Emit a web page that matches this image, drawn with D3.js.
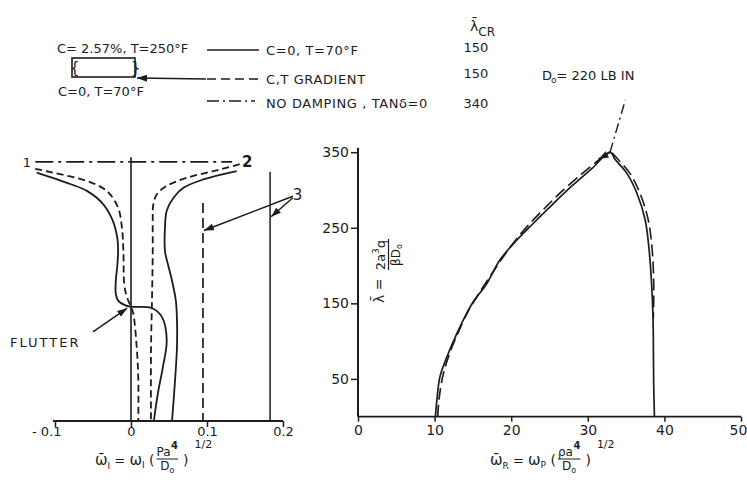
<!DOCTYPE html>
<html>
<head>
<meta charset="utf-8">
<script src="https://cdn.jsdelivr.net/npm/d3@7"></script>
<style>
  html, body { margin: 0; padding: 0; background: #fff; }
  svg { display: block; }
  text { font-family: "DejaVu Sans", sans-serif; fill: #1c1c1c; }
</style>
</head>
<body>
<svg id="chart" width="747" height="484"></svg>
<script>
// ---------------- data ----------------
// legend cases and their critical dynamic pressure
const legendCases = ["C=0, T=70°F", "C,T GRADIENT", "NO DAMPING , TANδ=0"];
const legendLambdaCR = [150, 150, 340];
const legendDash = [null, "9,5", "12,4,2,4"];

// tick values
const imagTicks = [-0.1, 0, 0.1, 0.2];
const imagTickLabels = ["- 0.1", "0", "0.1", "0.2"];
const realTicks = [0, 10, 20, 30, 40, 50];
const lambdaTicks = [50, 150, 250, 350];

// imaginary frequency vs lambda, pairs [omegaI, lambda]
const mode1Solid = [[-0.124, 326], [-0.080, 311], [-0.058, 302], [-0.037, 285], [-0.024, 263],
  [-0.018, 240], [-0.017, 223], [-0.018, 204], [-0.020, 184], [-0.020, 167], [-0.017, 158],
  [-0.008, 152], [-0.001, 150], [0.028, 148], [0.041, 136], [0.047, 106], [0.042, 71],
  [0.0355, 37], [0.030, 0]];
const mode1Dashed = [[-0.126, 331], [-0.103, 326], [-0.058, 315], [-0.032, 302], [-0.017, 280],
  [-0.012, 254], [-0.010, 223], [-0.009, 180], [-0.0066, 167], [-0.0036, 158], [0, 150],
  [0.003, 141], [0.0075, 97], [0.0096, 54], [0.0096, 0]];
const mode2Solid = [[0.139, 328], [0.095, 317], [0.069, 306], [0.056, 293], [0.047, 276],
  [0.0447, 254], [0.0447, 223], [0.049, 204], [0.054, 184], [0.059, 158], [0.0605, 132],
  [0.0605, 97], [0.058, 54], [0.054, 0]];
const mode2Dashed = [[0.143, 337], [0.117, 330], [0.073, 319], [0.047, 308.5], [0.034, 297.6],
  [0.0293, 284], [0.0286, 267], [0.0286, 223], [0.0276, 158], [0.0263, 93], [0.0263, 0]];
const noDampingLambda = 340;
const noDampingSpan = [-0.126, 0.133];
const zeroLineTop = 346;
const mode3Dashed = { omega: 0.0947, top: 286 };
const mode3Solid = { omega: 0.183, top: 327 };

// real frequency vs lambda, pairs [omegaR, lambda]
const realSolid = [[10.1, 0], [10.3, 22], [10.7, 53], [11.6, 79], [12.9, 110], [14.2, 137],
  [15.05, 152], [16.8, 176], [18.5, 207], [20.3, 229], [22.8, 255], [25.4, 281], [28.0, 306],
  [30.6, 329], [32.9, 350], [33.6, 340], [35.1, 322], [36.4, 296], [37.5, 260], [38.0, 221],
  [38.3, 181], [38.5, 137], [38.55, 110], [38.6, 44], [38.7, 0]];
const realDashedLeft = [[10.4, 0], [10.6, 25], [11.1, 55], [12.0, 85], [13.1, 112], [14.4, 140],
  [15.6, 160], [17.2, 185], [19.2, 215], [21.5, 245], [24.0, 272], [26.6, 298], [29.3, 322],
  [31.5, 340], [32.9, 350]];
const realDashedRight = [[33.2, 349], [34.0, 340], [35.5, 322], [36.8, 296], [37.9, 260],
  [38.4, 221], [38.6, 181], [38.6, 150], [38.55, 130]];
const realNoDamping = [[32.9, 350], [34.9, 419]];

// ---------------- drawing ----------------
const ink = "#1c1c1c";
const svg = d3.select("#chart");

const defs = svg.append("defs");
defs.append("marker")
  .attr("id", "arrow").attr("viewBox", "0 0 10 7")
  .attr("refX", 10).attr("refY", 3.5)
  .attr("markerWidth", 10).attr("markerHeight", 7)
  .attr("markerUnits", "userSpaceOnUse")
  .attr("orient", "auto")
  .append("path").attr("d", "M0,0 L10,3.5 L0,7 Z").attr("fill", ink);

const arrow = (g, a, b) => g.append("line")
  .attr("x1", a[0]).attr("y1", a[1]).attr("x2", b[0]).attr("y2", b[1])
  .attr("stroke", ink).attr("stroke-width", 1.5).attr("marker-end", "url(#arrow)");

// axis title of the form  w̄_s = w_s ( num / D_o ) ^1/2
function freqTitle(g, x, y, sub, subOuter, numChar) {
  const pre = g.append("text").attr("x", x).attr("y", y).attr("font-size", 15);
  pre.append("tspan").text("ω\u0304");
  pre.append("tspan").attr("font-size", 9).attr("dy", 4).text(sub);
  pre.append("tspan").attr("font-size", 13).attr("dy", -4).text(" = ");
  pre.append("tspan").text("ω");
  pre.append("tspan").attr("font-size", 9).attr("dy", 3).text(subOuter);
  pre.append("tspan").attr("font-size", 14).attr("dy", -3).text(" (");
  const x0 = x + pre.node().getComputedTextLength() + 2;

  const num = g.append("text").attr("x", x0).attr("y", y - 9).attr("font-size", 12);
  num.append("tspan").text(numChar + "a");
  num.append("tspan").attr("font-size", 10).attr("font-weight", "bold").attr("dy", -7).attr("dx", 0.5).text("4");
  const nb = num.node().getBBox();
  const xr = nb.x + nb.width;
  g.append("line").attr("x1", x0).attr("x2", xr).attr("y1", y - 6).attr("y2", y - 6)
    .attr("stroke", ink).attr("stroke-width", 1);
  const den = g.append("text").attr("x", (x0 + xr) / 2).attr("y", y + 5).attr("font-size", 12)
    .attr("text-anchor", "middle");
  den.append("tspan").text("D");
  den.append("tspan").attr("font-size", 8).attr("dy", 3).text("o");

  const close = g.append("text").attr("x", xr + 5).attr("y", y).attr("font-size", 14).text(")");
  const cw = close.node().getComputedTextLength();
  g.append("text").attr("x", xr + 5 + cw + 6).attr("y", y - 17).attr("font-size", 11).text("1/2");
}

// ---- left panel: imaginary part ----
const xI = d3.scaleLinear().domain([-0.1, 0.2]).range([55, 283]);
const yI = d3.scaleLinear().domain([0, 350]).range([421, 421 - 350 * 0.762]);

const left = svg.append("g");
const lineI = d3.line().x(d => xI(d[0])).y(d => yI(d[1])).curve(d3.curveCatmullRom.alpha(0.5));

const axI = left.append("g").attr("transform", `translate(0,${yI(0)})`)
  .call(d3.axisBottom(xI).tickValues(imagTicks).tickSize(6).tickPadding(0)
    .tickFormat((d, i) => imagTickLabels[i]));
axI.select(".domain").attr("stroke", ink).attr("stroke-width", 1.8)
  .attr("d", `M${xI(-0.1) - 2},0H${xI(0.2)}`);
axI.selectAll(".tick line").attr("stroke", ink).attr("stroke-width", 1.5);
axI.selectAll(".tick text").attr("font-size", 13).attr("fill", ink)
  .attr("font-family", "DejaVu Sans, sans-serif");
axI.selectAll(".tick text").filter(d => d < 0).attr("text-anchor", "end").attr("x", 6);

// zero line
left.append("line")
  .attr("x1", xI(0)).attr("x2", xI(0)).attr("y1", yI(zeroLineTop)).attr("y2", yI(0))
  .attr("stroke", ink).attr("stroke-width", 1.6);

// no damping line
left.append("line")
  .attr("x1", xI(noDampingSpan[0])).attr("x2", xI(noDampingSpan[1]))
  .attr("y1", yI(noDampingLambda)).attr("y2", yI(noDampingLambda))
  .attr("stroke", ink).attr("stroke-width", 1.6).attr("stroke-dasharray", "18,5,3,5");

// mode 3 verticals
left.append("line")
  .attr("x1", xI(mode3Dashed.omega)).attr("x2", xI(mode3Dashed.omega))
  .attr("y1", yI(mode3Dashed.top)).attr("y2", yI(0))
  .attr("stroke", ink).attr("stroke-width", 1.7).attr("stroke-dasharray", "10,5");
left.append("line")
  .attr("x1", xI(mode3Solid.omega)).attr("x2", xI(mode3Solid.omega))
  .attr("y1", yI(mode3Solid.top)).attr("y2", yI(0))
  .attr("stroke", ink).attr("stroke-width", 1.5);

[[mode1Solid, null], [mode1Dashed, "7,4"], [mode2Solid, null], [mode2Dashed, "7,4"]]
  .forEach(([pts, dash]) => {
    left.append("path").attr("d", lineI(pts))
      .attr("fill", "none").attr("stroke", ink).attr("stroke-width", 1.8)
      .attr("stroke-dasharray", dash);
  });

// mode labels and annotation arrows
left.append("text").attr("x", xI(-0.137)).attr("y", yI(noDampingLambda) + 5)
  .attr("font-size", 13).attr("text-anchor", "middle").text("1");
left.append("text").attr("x", xI(0.153)).attr("y", yI(noDampingLambda) + 5)
  .attr("font-size", 15).attr("font-weight", "bold").attr("text-anchor", "middle").text("2");
left.append("text").attr("x", xI(0.219)).attr("y", yI(298) + 6)
  .attr("font-size", 15).attr("text-anchor", "middle").text("3");

arrow(left, [xI(0.213), yI(295)], [xI(mode3Dashed.omega) + 1, yI(250)]);
arrow(left, [xI(0.213), yI(293)], [xI(mode3Solid.omega) + 1, yI(268)]);
arrow(left, [xI(-0.05), yI(117)], [xI(-0.005), yI(148)]);

left.append("text").attr("x", 10).attr("y", 347)
  .attr("font-size", 13).attr("letter-spacing", 2).text("FLUTTER");

freqTitle(left.append("g"), 95, 465, "I", "I", "P");

// ---- right panel: real part ----
const xR = d3.scaleLinear().domain([0, 50]).range([358, 741]);
const yR = d3.scaleLinear().domain([0, 350]).range([416.7, 152.2]);
const lineR = d3.line().x(d => xR(d[0])).y(d => yR(d[1])).curve(d3.curveCatmullRom.alpha(0.5));

const right = svg.append("g");
const axRx = right.append("g").attr("transform", `translate(0,${yR(0)})`)
  .call(d3.axisBottom(xR).tickValues(realTicks).tickSize(5).tickPadding(3).tickFormat(d3.format("d")));
axRx.select(".domain").attr("stroke", ink).attr("stroke-width", 1.8).attr("d", `M${xR(0)},0H${xR(50)}`);
axRx.selectAll(".tick line").attr("stroke", ink).attr("stroke-width", 1.5);
axRx.selectAll(".tick text").attr("font-size", 14).attr("fill", ink)
  .attr("font-family", "DejaVu Sans, sans-serif");
axRx.selectAll(".tick text").filter(d => d === 50).attr("x", -3);

const axRy = right.append("g").attr("transform", `translate(${xR(0)},0)`)
  .call(d3.axisLeft(yR).tickValues(lambdaTicks).tickSize(7).tickPadding(2).tickFormat(d3.format("d")));
axRy.select(".domain").attr("stroke", ink).attr("stroke-width", 2)
  .attr("d", `M0,${yR(0)}V${yR(356)}`);
axRy.selectAll(".tick line").attr("stroke", ink).attr("stroke-width", 1.5);
axRy.selectAll(".tick text").attr("font-size", 14).attr("fill", ink)
  .attr("font-family", "DejaVu Sans, sans-serif");

right.append("path").attr("d", lineR(realSolid))
  .attr("fill", "none").attr("stroke", ink).attr("stroke-width", 1.7);
right.append("path").attr("d", lineR(realDashedLeft))
  .attr("fill", "none").attr("stroke", ink).attr("stroke-width", 1.7).attr("stroke-dasharray", "12,5");
right.append("path").attr("d", lineR(realDashedRight))
  .attr("fill", "none").attr("stroke", ink).attr("stroke-width", 1.6).attr("stroke-dasharray", "12,5");
right.append("path").attr("d", lineR(realNoDamping))
  .attr("fill", "none").attr("stroke", ink).attr("stroke-width", 1.4).attr("stroke-dasharray", "10,4,2,4");
// direction arrow near the peak
arrow(right, [xR(32.6), yR(347.5)], [xR(31.4), yR(341)]);

// y title (right)
const tY = right.append("g").attr("transform", "translate(384,303) rotate(-90)");
tY.append("text").attr("x", 0).attr("y", 0).attr("font-size", 14).text("λ\u0304 =");
const tYnum = tY.append("text").attr("x", 48).attr("y", 1).attr("font-size", 13).attr("text-anchor", "middle");
tYnum.append("tspan").text("2a");
tYnum.append("tspan").attr("font-size", 9).attr("dy", -6).text("3");
tYnum.append("tspan").attr("dy", 6).text("q");
tY.append("line").attr("x1", 33).attr("x2", 64).attr("y1", 4.5).attr("y2", 4.5)
  .attr("stroke", ink).attr("stroke-width", 1.2);
const tYden = tY.append("text").attr("x", 48).attr("y", 16).attr("font-size", 12).attr("text-anchor", "middle");
tYden.append("tspan").text("βD");
tYden.append("tspan").attr("font-size", 8).attr("dy", 2).text("o");

freqTitle(right.append("g"), 490, 465, "R", "P", "ρ");

// ---------------- legend ----------------
const leg = svg.append("g");
leg.append("text").attr("x", 57).attr("y", 53).attr("font-size", 13).text("C= 2.57%, T=250°F");
leg.append("rect").attr("x", 72).attr("y", 58).attr("width", 63).attr("height", 19)
  .attr("fill", "none").attr("stroke", ink).attr("stroke-width", 1.6);
leg.append("text").attr("x", 70).attr("y", 73).attr("font-size", 15).text("{");
leg.append("text").attr("x", 131).attr("y", 73).attr("font-size", 15).text("}");
leg.append("text").attr("x", 58).attr("y", 96).attr("font-size", 13).text("C=0, T=70°F");
arrow(leg, [206, 79], [137, 78]);

const rowY = [50, 79, 101];
const rowBase = [55, 84, 108];
const rowEnd = [259, 262, 255];
legendCases.forEach((label, i) => {
  leg.append("line").attr("x1", 207).attr("x2", rowEnd[i]).attr("y1", rowY[i]).attr("y2", rowY[i])
    .attr("stroke", ink).attr("stroke-width", 1.6).attr("stroke-dasharray", legendDash[i]);
  leg.append("text").attr("x", 266).attr("y", rowBase[i]).attr("font-size", 13)
    .attr("letter-spacing", 0.6).text(label);
  leg.append("text").attr("x", 476).attr("y", [52, 78, 108][i]).attr("font-size", 13)
    .attr("text-anchor", "middle").text(legendLambdaCR[i]);
});
const lcr = leg.append("text").attr("x", 470).attr("y", 31).attr("font-size", 14);
lcr.append("tspan").text("λ\u0304");
lcr.append("tspan").attr("font-size", 12).attr("dy", 5).text("CR");
const d0 = leg.append("text").attr("x", 542).attr("y", 80).attr("font-size", 13);
d0.append("tspan").text("D");
d0.append("tspan").attr("font-size", 9).attr("dy", 3).attr("dx", -1).text("o");
d0.append("tspan").attr("dy", -3).text("= 220 LB IN");
</script>
</body>
</html>
